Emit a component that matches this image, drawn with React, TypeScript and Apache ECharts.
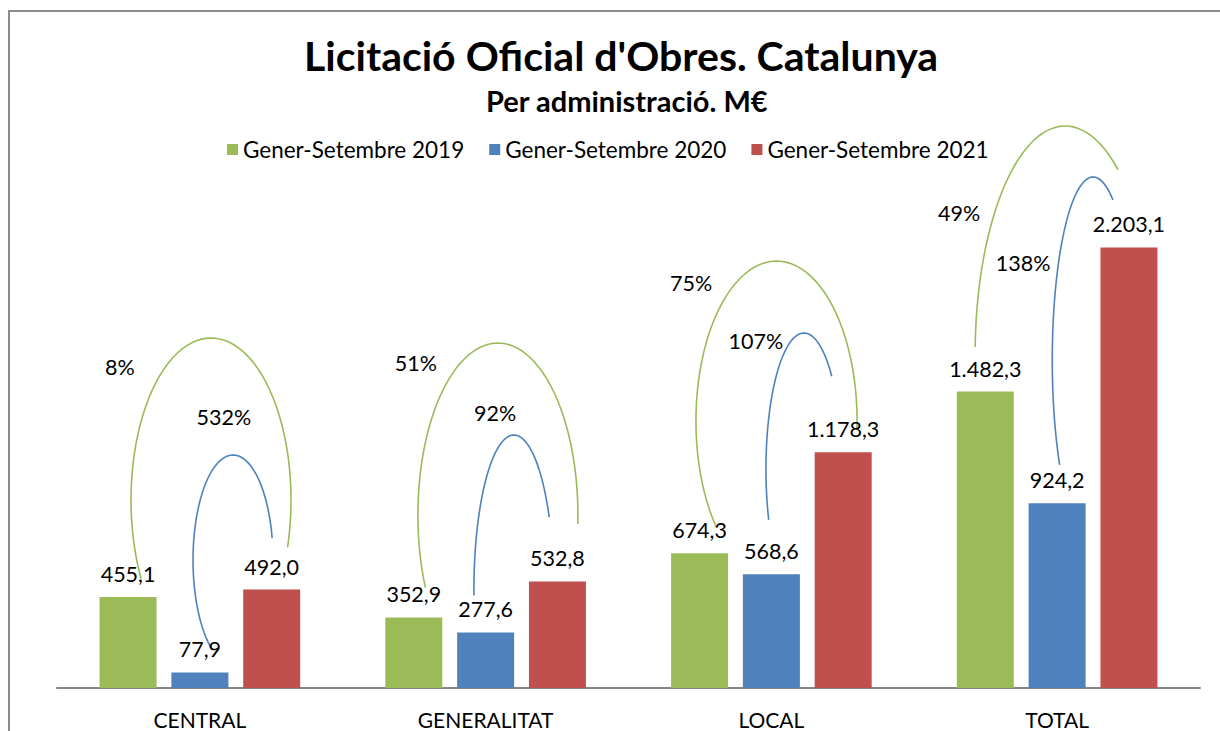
import React, { useEffect, useRef } from "react";
import * as echarts from "echarts";

const categories = ["CENTRAL", "GENERALITAT", "LOCAL", "TOTAL"];
const seriesNames = ["Gener-Setembre 2019", "Gener-Setembre 2020", "Gener-Setembre 2021"];
const values2019 = [455.1, 352.9, 674.3, 1482.3];
const values2020 = [77.9, 277.6, 568.6, 924.2];
const values2021 = [492.0, 532.8, 1178.3, 2203.1];
const seriesColors = ["#9BBB59", "#4F81BD", "#C0504D"];

// growth labels 2021 vs 2019 and 2021 vs 2020
const growthVs2019 = ["8%", "51%", "75%", "49%"];
const growthVs2020 = ["532%", "92%", "107%", "138%"];

// arcs: [centerX (category units), centerY (value units), radiusX (category units), radiusY (value units), startDeg, endDeg, colorIndex]
const arcs = [
  [0.039, 940, 0.28, 810, 209, -17, 0],
  [0.116, 640, 0.14, 525, 239, 12, 1],
  [1.043, 865, 0.28, 860, 205, -3, 0],
  [1.099, 490, 0.14, 775, 182, 28, 1],
  [2.018, 1335, 0.282, 800, 222, -3, 0],
  [2.114, 1095, 0.133, 680, 202, 43, 1],
  [3.028, 1665, 0.315, 1145, 178, 54, 0],
  [3.126, 1640, 0.143, 915, 215, 61, 1],
];

// label positions: [x (category units), y (value units)]
const growthVs2019Pos = [[-0.28, 1605], [0.756, 1625], [1.719, 2025], [2.657, 2375]];
const growthVs2020Pos = [[0.084, 1355], [1.033, 1375], [1.946, 1735], [2.881, 2125]];

const FONT = "Lato";

function fmt(v: number): string {
  const [i, d] = v.toFixed(1).split(".");
  return i.replace(/\B(?=(\d{3})+(?!\d))/g, ".") + "," + d;
}

export default function App() {
  const ref = useRef<HTMLDivElement>(null);
  useEffect(() => {
    if (!ref.current) return;
    const chart = echarts.init(ref.current, null, { renderer: "svg" });
    const labelTexts = [...growthVs2019, ...growthVs2020];
    const labelPos = [...growthVs2019Pos, ...growthVs2020Pos];
    const barSeries = [values2019, values2020, values2021].map((vals, i) => ({
      name: seriesNames[i],
      type: "bar",
      data: vals,
      barWidth: 57,
      barGap: "26%",
      itemStyle: { color: seriesColors[i] },
      label: {
        show: true,
        position: "top",
        distance: 12,
        fontFamily: FONT,
        fontSize: 21.5,
        color: "#000",
        formatter: (p: any) => fmt(p.value),
      },
    }));
    chart.setOption({
      animation: false,
      backgroundColor: "#fff",
      textStyle: { fontFamily: FONT },
      title: [
        {
          text: "Licitació Oficial d'Obres. Catalunya",
          left: 299,
          top: 30,
          textStyle: { fontFamily: FONT, fontSize: 41, fontWeight: "bold", color: "#000" },
        },
        {
          text: "Per administració. M€",
          left: 481,
          top: 81,
          textStyle: { fontFamily: FONT, fontSize: 29, fontWeight: "bold", color: "#000" },
        },
      ],
      legend: {
        data: seriesNames,
        top: 133,
        left: 222,
        icon: "rect",
        itemWidth: 11,
        itemHeight: 11,
        itemGap: 25,
        textStyle: { fontFamily: FONT, fontSize: 22.5, color: "#000" },
      },
      grid: { left: 57, right: 20, top: 188, bottom: 43 },
      xAxis: [
        {
          type: "category",
          data: categories,
          axisLine: { lineStyle: { color: "#868686", width: 2 } },
          axisTick: { show: false },
          axisLabel: { fontFamily: FONT, fontSize: 21, color: "#000", margin: 21 },
        },
        { type: "value", min: -0.5, max: 3.5, show: false },
      ],
      yAxis: { type: "value", min: 0, max: 2500, show: false },
      graphic: [
        {
          type: "rect",
          shape: { x: 9, y: 11, width: 1400, height: 1000 },
          style: { fill: "none", stroke: "#8c8c8c", lineWidth: 2 },
          silent: true,
        },
      ],
      series: [
        ...barSeries,
        {
          type: "custom",
          xAxisIndex: 1,
          yAxisIndex: 0,
          clip: false,
          silent: true,
          data: arcs,
          renderItem: (params: any, api: any) => {
            const a = arcs[params.dataIndex];
            const [cx, cy, rx, ry, a0, a1, ci] = a;
            const pts: number[][] = [];
            const N = 60;
            for (let k = 0; k <= N; k++) {
              const t = ((a0 + ((a1 - a0) * k) / N) * Math.PI) / 180;
              pts.push(api.coord([cx + rx * Math.cos(t), cy + ry * Math.sin(t)]));
            }
            return {
              type: "polyline",
              shape: { points: pts },
              style: { stroke: seriesColors[ci], fill: "none", lineWidth: 1.6 },
            };
          },
        },
        {
          type: "custom",
          xAxisIndex: 1,
          yAxisIndex: 0,
          clip: false,
          silent: true,
          data: labelPos,
          renderItem: (params: any, api: any) => {
            const p = api.coord(labelPos[params.dataIndex]);
            return {
              type: "text",
              x: p[0],
              y: p[1],
              style: {
                text: labelTexts[params.dataIndex],
                fontFamily: FONT,
                fontSize: 21.5,
                fill: "#000",
                align: "center",
                verticalAlign: "middle",
              },
            };
          },
        },
      ],
    });
    return () => chart.dispose();
  }, []);
  return (
    <div
      ref={ref}
      style={{ position: "absolute", left: 0, top: 0, width: 1220, height: 731 }}
    />
  );
}
